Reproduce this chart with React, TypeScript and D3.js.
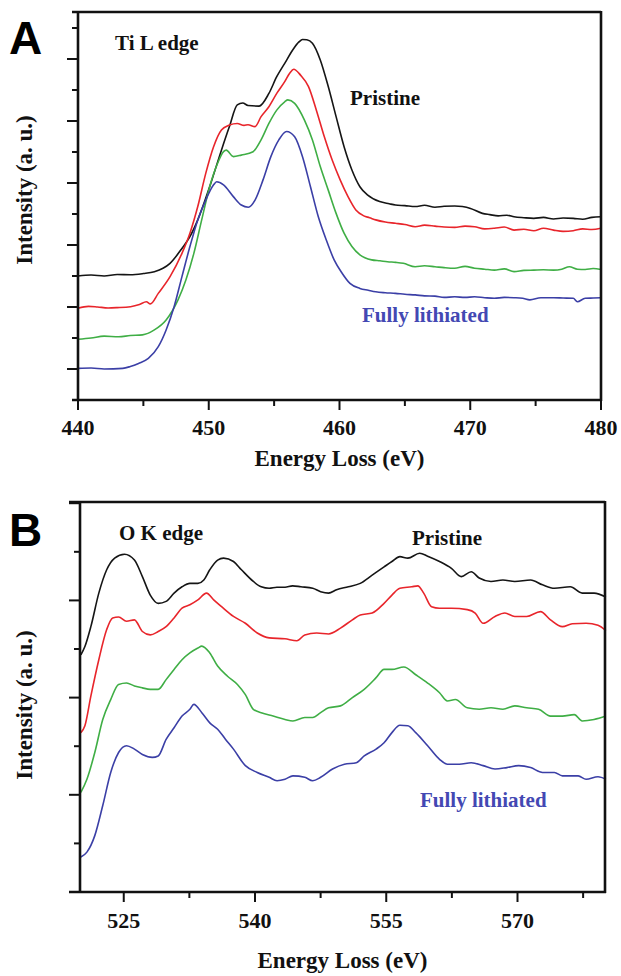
import React from "react";
import * as d3 from "d3";

// ---------- Panel A : Ti L edge ----------
const A_xTicks = [440, 450, 460, 470, 480];
const A_xMinor = [445, 455, 465, 475];
const A_yMajor = [1, 3, 5, 7, 9, 11];
const A_yMinor = [0, 2, 4, 6, 8, 10, 12];

const A_pristine: [number, number][] = [
  [440, 4.0], [441, 4.03], [442, 4.0], [443, 4.05], [444, 4.04], [445.0, 4.08], [445.84, 4.14], [446.5, 4.25], [447.04, 4.41], [447.95, 4.89], [448.56, 5.27], [449.16, 5.81],
  [450.07, 6.88], [450.97, 8.06], [451.58, 8.82], [452.18, 9.52], [452.6, 9.58], [453.0, 9.5], [453.85, 9.48], [454.6, 9.89], [455.2, 10.43],
  [455.81, 10.86], [456.42, 11.29], [456.9, 11.55], [457.17, 11.63], [457.5, 11.62], [457.93, 11.51], [458.53, 10.97], [459.14, 10.11], [459.74, 9.14],
  [460.35, 8.17], [460.95, 7.42], [461.56, 6.88], [462.16, 6.61], [463.07, 6.40], [463.8, 6.33], [464.28, 6.29], [465.0, 6.27], [465.79, 6.24], [466.5, 6.28],
  [467.3, 6.22], [468.0, 6.25], [468.81, 6.26], [469.4, 6.24], [470.02, 6.18], [470.93, 6.02], [471.5, 5.98], [472.14, 5.94], [472.8, 5.96], [473.35, 5.91],
  [474.1, 5.88], [474.86, 5.86], [475.6, 5.89], [476.37, 5.84], [477.1, 5.87], [477.88, 5.86], [478.6, 5.83], [479.3, 5.89], [480, 5.91],
];
const A_stage1: [number, number][] = [
  [440, 2.96], [440.8, 3.02], [441.5, 3.0], [442.3, 2.97], [443.0, 2.98], [444.02, 3.01], [444.7, 3.08], [445.23, 3.17], [445.53, 3.1], [446.14, 3.44],
  [447.04, 3.98], [447.95, 4.73], [448.56, 5.38], [449.16, 6.24], [449.77, 7.31], [450.37, 8.17], [450.97, 8.71], [451.58, 8.87],
  [452.18, 8.92], [452.7, 8.86], [453.0, 8.88], [453.54, 8.82], [454.0, 9.14], [454.6, 9.46], [455.2, 9.89], [455.81, 10.27], [456.2, 10.55], [456.5, 10.67],
  [457.02, 10.48], [457.63, 10.11], [458.23, 9.35], [458.84, 8.49], [459.44, 7.74], [460.05, 7.1], [460.65, 6.56], [461.25, 6.13],
  [461.86, 5.94], [462.3, 5.88], [462.77, 5.81], [463.5, 5.74], [464.28, 5.7], [465.0, 5.66], [465.79, 5.59], [466.5, 5.64], [467.3, 5.61], [468.0, 5.58],
  [468.81, 5.57], [469.6, 5.61], [470.33, 5.59], [471.1, 5.52], [471.84, 5.54], [472.6, 5.58], [473.35, 5.48], [474.1, 5.51], [474.86, 5.46],
  [475.6, 5.54], [476.37, 5.48], [477.1, 5.44], [477.88, 5.46], [478.6, 5.52], [479.3, 5.5], [480, 5.54],
];
const A_stage2: [number, number][] = [
  [440, 1.96], [441, 2.0], [442, 2.06], [443.11, 2.04], [444.0, 2.08], [444.93, 2.1], [445.84, 2.26], [446.74, 2.58], [447.65, 3.23],
  [448.25, 3.87], [448.86, 4.73], [449.46, 5.81], [450.07, 6.88], [450.67, 7.63], [451.13, 8.01], [451.34, 8.06], [451.88, 7.85],
  [452.49, 7.9], [453.39, 8.01], [454.0, 8.39], [454.6, 8.92], [455.2, 9.35], [455.81, 9.62], [456.05, 9.68], [456.57, 9.57],
  [457.32, 9.03], [457.93, 8.39], [458.53, 7.53], [459.14, 6.77], [459.74, 6.02], [460.35, 5.38], [460.95, 4.95], [461.56, 4.68],
  [462.46, 4.52], [463.1, 4.49], [463.67, 4.46], [464.3, 4.44], [464.88, 4.41], [465.79, 4.3], [466.5, 4.33], [467.3, 4.3], [468.0, 4.27],
  [468.81, 4.25], [469.6, 4.31], [470.33, 4.25], [471.1, 4.22], [471.84, 4.19], [472.6, 4.23], [473.35, 4.14], [474.1, 4.18], [474.86, 4.19],
  [475.6, 4.2], [476.37, 4.19], [477.0, 4.22], [477.58, 4.3], [478.2, 4.22], [478.79, 4.21], [479.4, 4.24], [480, 4.21],
];
const A_lithiated: [number, number][] = [
  [440, 1.02], [441, 1.03], [442, 1.0], [443.42, 1.02], [444.0, 1.08], [444.63, 1.18], [445.38, 1.34], [446.14, 1.72], [446.74, 2.26],
  [447.35, 3.01], [447.95, 3.98], [448.56, 4.95], [449.16, 5.81], [449.77, 6.45], [450.37, 6.94], [450.6, 7.04], [451.13, 6.94],
  [451.88, 6.56], [452.49, 6.29], [453.03, 6.22], [453.54, 6.45], [454.15, 7.1], [454.75, 7.85], [455.36, 8.39], [455.95, 8.66],
  [456.57, 8.49], [457.17, 7.85], [457.78, 6.88], [458.38, 5.91], [458.99, 5.16], [459.59, 4.52], [460.2, 4.09], [460.8, 3.76],
  [461.56, 3.6], [462.2, 3.54], [462.77, 3.49], [463.5, 3.46], [464.28, 3.44], [465.0, 3.41], [465.79, 3.39], [466.5, 3.36], [467.3, 3.35],
  [468.0, 3.31], [468.81, 3.33], [469.6, 3.31], [470.33, 3.33], [471.1, 3.3], [471.84, 3.28], [472.6, 3.31], [473.35, 3.3], [474.0, 3.28],
  [474.56, 3.23], [475.4, 3.3], [476.37, 3.3], [477.1, 3.29], [477.88, 3.28], [478.19, 3.17], [478.79, 3.28], [479.4, 3.29], [480, 3.3],
];

// ---------- Panel B : O K edge ----------
const B_xTicks = [525, 540, 555, 570];
const B_xMinor = [532.5, 547.5, 562.5, 577.5];
const B_yMajor = [0, 2, 4, 6, 8];
const B_yMinor = [1, 3, 5, 7];

const B_pristine: [number, number][] = [
  [520.1, 4.88], [520.56, 5.05], [521.24, 5.46], [522.15, 6.15], [523.05, 6.63], [523.96, 6.87], [525.09, 6.95], [526.22, 6.83],
  [527.13, 6.49], [528.03, 6.11], [528.94, 5.94], [529.84, 5.98], [530.75, 6.15], [531.66, 6.28], [532.56, 6.35], [533.47, 6.35],
  [534.15, 6.42], [534.83, 6.63], [535.73, 6.83], [536.41, 6.87], [537.54, 6.8], [538.45, 6.63], [539.81, 6.39], [540.71, 6.28],
  [541.62, 6.25], [542.5, 6.27], [543.43, 6.27], [544.3, 6.3], [545.24, 6.28], [546.6, 6.25], [547.5, 6.18], [548.41, 6.15], [549.32, 6.22],
  [550.67, 6.28], [552.03, 6.35], [553.39, 6.52], [554.75, 6.69], [555.65, 6.8], [556.56, 6.9], [557.47, 6.87], [558.82, 6.97],
  [559.73, 6.91], [561.09, 6.8], [562.45, 6.66], [563.58, 6.49], [564.71, 6.59], [565.62, 6.46], [566.97, 6.39], [568.33, 6.42],
  [569.69, 6.39], [571.5, 6.42], [572.86, 6.32], [574.22, 6.25], [576.03, 6.28], [577.39, 6.15], [578.75, 6.15], [580.1, 6.07],
];
const B_stage1: [number, number][] = [
  [520.1, 3.28], [520.56, 3.42], [521.24, 4.03], [522.15, 4.78], [523.05, 5.4], [523.73, 5.64], [524.41, 5.66], [525.32, 5.57],
  [526.22, 5.6], [527.13, 5.36], [528.03, 5.29], [528.94, 5.36], [529.84, 5.46], [530.75, 5.64], [531.66, 5.84], [532.56, 5.91],
  [533.47, 6.01], [534.46, 6.15], [535.28, 6.01], [536.18, 5.87], [537.54, 5.67], [538.9, 5.53], [540.26, 5.33], [541.62, 5.23],
  [543.43, 5.21], [544.79, 5.17], [545.69, 5.29], [547.05, 5.33], [548.41, 5.31], [549.77, 5.43], [551.13, 5.6], [552.03, 5.7],
  [553.39, 5.74], [554.75, 5.94], [555.65, 6.11], [556.56, 6.25], [557.92, 6.28], [558.6, 6.3], [559.28, 6.15], [560.18, 5.87],
  [561.09, 5.84], [562.45, 5.84], [564.26, 5.81], [565.16, 5.74], [566.07, 5.53], [567.43, 5.67], [568.56, 5.74], [569.69, 5.67],
  [571.05, 5.67], [572.63, 5.77], [573.77, 5.6], [575.13, 5.46], [576.26, 5.52], [577.84, 5.53], [579.2, 5.49], [580.1, 5.38],
];
const B_stage2: [number, number][] = [
  [520.1, 2.05], [520.79, 2.32], [521.69, 2.87], [522.6, 3.55], [523.51, 3.96], [524.41, 4.27], [525.32, 4.3], [526.22, 4.24],
  [527.13, 4.2], [528.03, 4.17], [528.94, 4.17], [529.84, 4.37], [530.75, 4.58], [531.66, 4.78], [532.56, 4.92], [533.47, 5.02],
  [533.92, 5.06], [534.83, 4.92], [535.73, 4.65], [536.86, 4.44], [537.99, 4.27], [538.9, 4.06], [539.81, 3.76], [540.71, 3.69],
  [542.07, 3.62], [543.43, 3.55], [544.33, 3.52], [545.69, 3.59], [546.6, 3.59], [547.5, 3.69], [548.41, 3.79], [549.77, 3.83],
  [551.13, 4.0], [552.48, 4.17], [553.84, 4.41], [554.75, 4.58], [555.65, 4.58], [557.01, 4.63], [558.37, 4.47], [559.73, 4.3],
  [561.09, 4.1], [561.99, 3.93], [562.9, 3.96], [564.26, 3.79], [565.62, 3.76], [566.97, 3.79], [568.33, 3.76], [569.69, 3.83],
  [571.05, 3.79], [572.41, 3.76], [573.77, 3.62], [575.13, 3.62], [576.49, 3.65], [577.39, 3.52], [578.75, 3.55], [580.1, 3.62],
];
const B_lithiated: [number, number][] = [
  [520.1, 0.72], [520.79, 0.82], [521.69, 1.16], [522.6, 1.78], [523.51, 2.46], [524.41, 2.87], [525.32, 3.01], [526.22, 2.94],
  [527.13, 2.83], [528.26, 2.77], [528.94, 2.8], [529.84, 3.14], [530.75, 3.38], [531.66, 3.62], [532.56, 3.76], [533.01, 3.86],
  [533.92, 3.69], [534.83, 3.48], [535.73, 3.35], [536.64, 3.14], [537.54, 2.94], [538.9, 2.6], [540.26, 2.46], [541.62, 2.36],
  [542.52, 2.29], [543.43, 2.32], [544.33, 2.39], [545.69, 2.36], [546.6, 2.29], [547.5, 2.36], [548.86, 2.53], [550.22, 2.63],
  [551.58, 2.66], [552.48, 2.8], [553.84, 2.94], [554.75, 3.07], [555.65, 3.28], [556.56, 3.43], [557.47, 3.42], [558.37, 3.28],
  [559.73, 3.01], [561.09, 2.73], [561.99, 2.63], [563.35, 2.63], [564.71, 2.66], [566.07, 2.6], [567.43, 2.53], [568.79, 2.56],
  [570.14, 2.6], [571.5, 2.56], [572.86, 2.46], [574.22, 2.46], [575.13, 2.39], [576.94, 2.39], [577.84, 2.32], [579.2, 2.37], [580.1, 2.32],
];

const COLORS = ["#151515", "#e8252b", "#3fae45", "#3b3fa6"];
const SERIF = "Liberation Serif";
const SANS = "Liberation Sans";

type Series = [number, number][];

interface PanelProps {
  letter: string;
  edge: string;
  xDomain: [number, number];
  xRange: [number, number];
  yDomain: [number, number];
  yRange: [number, number];
  xTicks: number[];
  xMinor: number[];
  yMajor: number[];
  yMinor: number[];
  series: Series[];
  lineLeft: number;
  letterPos: [number, number];
  edgePos: [number, number];
  pristinePos: [number, number];
  lithPos: [number, number];
  tickBaseline: number;
  titleBaseline: number;
  yTitleCenter: number;
}

function Panel(p: PanelProps) {
  const x = d3.scaleLinear().domain(p.xDomain).range(p.xRange);
  const y = d3.scaleLinear().domain(p.yDomain).range(p.yRange);
  const line = d3
    .line<[number, number]>()
    .x((d) => x(d[0]))
    .y((d) => y(d[1]))
    .curve(d3.curveMonotoneX);
  const [x0, x1] = p.xRange;
  const [yb, yt] = p.yRange;
  const frameW = 2.6;
  return (
    <g>
      {p.series.map((s, i) => (
        <path key={i} d={line(s) || ""} fill="none" stroke={COLORS[i]} strokeWidth={1.6} strokeLinejoin="round" />
      ))}
      <line x1={p.lineLeft} x2={x1} y1={yt} y2={yt} stroke="#111" strokeWidth={frameW} />
      <line x1={p.lineLeft} x2={x1 + 1} y1={yb} y2={yb} stroke="#111" strokeWidth={frameW} />
      <line x1={x0} x2={x0} y1={yt} y2={yb + 1} stroke="#111" strokeWidth={frameW} />
      <line x1={x1} x2={x1} y1={yt - 1} y2={yb + 1} stroke="#111" strokeWidth={frameW} />
      {p.yMajor.map((v) => (
        <line key={"ym" + v} x1={x0 - 11} x2={x0} y1={y(v)} y2={y(v)} stroke="#111" strokeWidth={2} />
      ))}
      {p.yMinor.map((v) => (
        <line key={"yn" + v} x1={x0 - 6} x2={x0} y1={y(v)} y2={y(v)} stroke="#111" strokeWidth={2} />
      ))}
      {p.xTicks.map((v) => (
        <g key={"xt" + v}>
          <line x1={x(v)} x2={x(v)} y1={yb} y2={yb + 10} stroke="#111" strokeWidth={2} />
          <text x={x(v)} y={p.tickBaseline} textAnchor="middle" fontFamily={SERIF} fontWeight="bold" fontSize={22} fill="#111">
            {v}
          </text>
        </g>
      ))}
      {p.xMinor.map((v) => (
        <line key={"xn" + v} x1={x(v)} x2={x(v)} y1={yb} y2={yb + 6} stroke="#111" strokeWidth={2} />
      ))}
      <text x={(x0 + x1) / 2} y={p.titleBaseline} textAnchor="middle" fontFamily={SERIF} fontWeight="bold" fontSize={23} fill="#111">
        Energy Loss (eV)
      </text>
      <text
        transform={`translate(32,${p.yTitleCenter}) rotate(-90)`}
        textAnchor="middle"
        fontFamily={SERIF}
        fontWeight="bold"
        fontSize={23}
        fill="#111"
      >
        Intensity (a. u.)
      </text>
      <text x={p.letterPos[0]} y={p.letterPos[1]} fontFamily={SANS} fontWeight="bold" fontSize={46} fill="#000">
        {p.letter}
      </text>
      <text x={p.edgePos[0]} y={p.edgePos[1]} fontFamily={SERIF} fontWeight="bold" fontSize={21} fill="#111">
        {p.edge}
      </text>
      <text x={p.pristinePos[0]} y={p.pristinePos[1]} fontFamily={SERIF} fontWeight="bold" fontSize={21} fill="#111">
        Pristine
      </text>
      <text x={p.lithPos[0]} y={p.lithPos[1]} fontFamily={SERIF} fontWeight="bold" fontSize={21} fill="#4348b3">
        Fully lithiated
      </text>
    </g>
  );
}

export default function App() {
  return (
    <div style={{ position: "absolute", left: 0, top: 0 }}>
      <svg width={621} height={976} style={{ display: "block", background: "#fff" }}>
        <Panel
          letter="A"
          edge="Ti L edge"
          xDomain={[440, 480]}
          xRange={[78, 601]}
          yDomain={[0, 12.516]}
          yRange={[400, 12]}
          xTicks={A_xTicks}
          xMinor={A_xMinor}
          yMajor={A_yMajor}
          yMinor={A_yMinor}
          series={[A_pristine, A_stage1, A_stage2, A_lithiated]}
          lineLeft={72}
          letterPos={[9, 54]}
          edgePos={[115, 50]}
          pristinePos={[350, 105]}
          lithPos={[362, 322]}
          tickBaseline={435}
          titleBaseline={466}
          yTitleCenter={190}
        />
        <Panel
          letter="B"
          edge="O K edge"
          xDomain={[520, 580]}
          xRange={[80, 605]}
          yDomain={[0, 8.025]}
          yRange={[892, 502]}
          xTicks={B_xTicks}
          xMinor={B_xMinor}
          yMajor={B_yMajor}
          yMinor={B_yMinor}
          series={[B_pristine, B_stage1, B_stage2, B_lithiated]}
          lineLeft={69}
          letterPos={[9, 546]}
          edgePos={[119, 540]}
          pristinePos={[412, 545]}
          lithPos={[420, 807]}
          tickBaseline={928}
          titleBaseline={968}
          yTitleCenter={705}
        />
      </svg>
    </div>
  );
}
